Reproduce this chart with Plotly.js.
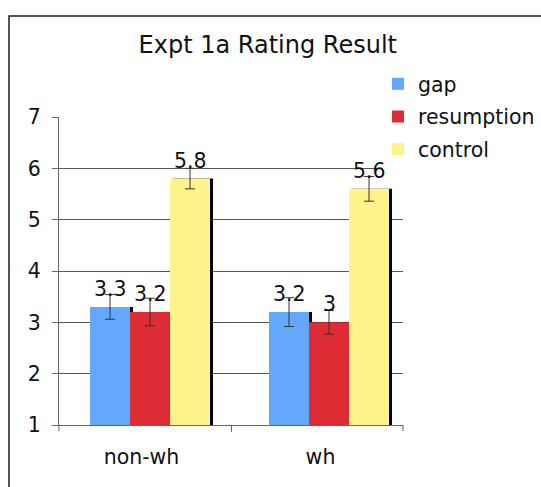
<!DOCTYPE html>
<html>
<head>
<meta charset="utf-8">
<script src="https://cdn.plot.ly/plotly-3.0.1.min.js"></script>
<style>html,body{margin:0;padding:0;background:#fff;}#chart{width:541px;height:487px;}</style>
</head>
<body>
<div id="chart"></div>
<script>
// ---- data ----
const categories = ['non-wh', 'wh'];
const seriesNames = ['gap', 'resumption', 'control'];
const gapValues = [3.3, 3.2];
const resumptionValues = [3.2, 3.0];
const controlValues = [5.8, 5.6];
const gapErrors = [0.24, 0.28];
const resumptionErrors = [0.27, 0.23];
const controlErrors = [0.20, 0.24];
const yTickValues = [1, 2, 3, 4, 5, 6, 7];
const titleText = 'Expt 1a Rating Result';

// ---- style ----
const FONT = 'DejaVu Sans, Verdana, sans-serif';
const colors = ['#63A8FE', '#DD2C33', '#FFF38B'];
const barW = 0.2235;
const offsets = [-0.2877, -0.0642, 0.1593];
const shadowShift = 0.0168;
const TXT = 20.5;

const values = [gapValues, resumptionValues, controlValues];
const errors = [gapErrors, resumptionErrors, controlErrors];

const traces = [];
// shadows first (below)
values.forEach((v, i) => {
  traces.push({
    type: 'bar', x: categories, y: v.map(d => d - 1), base: 1,
    width: barW, offset: offsets[i] + shadowShift,
    marker: {color: '#000000', line: {width: 0}},
    showlegend: false, hoverinfo: 'skip'
  });
});
values.forEach((v, i) => {
  traces.push({
    type: 'bar', name: seriesNames[i], legendgroup: 'g' + i, x: categories,
    y: v.map(d => d - 1), base: 1,
    width: barW, offset: offsets[i],
    marker: {color: colors[i], line: {width: 0}},
    error_y: {type: 'data', array: errors[i], visible: true, color: '#333333', thickness: 1, width: 5}
  });
});

const annotations = [];
values.forEach((v, i) => {
  v.forEach((val, j) => {
    annotations.push({
      xref: 'x', yref: 'y', x: j + offsets[i] + barW / 2, y: val,
      text: String(val), showarrow: false, yanchor: 'bottom', xanchor: 'center',
      yshift: 4, font: {family: FONT, size: TXT, color: '#111'}
    });
  });
});

const layout = {
  width: 541, height: 487,
  margin: {l: 59, r: 138, t: 117, b: 62, autoexpand: false},
  paper_bgcolor: '#ffffff', plot_bgcolor: '#ffffff',
  barmode: 'overlay',
  font: {family: FONT, size: TXT, color: '#111'},
  title: {text: titleText, font: {family: FONT, size: 24, color: '#111'},
          xref: 'container', yref: 'container', x: 0.495, xanchor: 'center', y: 0.9076, yanchor: 'middle'},
  xaxis: {
    type: 'category', range: [-0.461, 1.461], fixedrange: true,
    showline: true, linecolor: '#666', linewidth: 1,
    ticks: 'outside', ticklen: 6, tickcolor: '#666', tickson: 'boundaries',
    showgrid: false, ticklabelstandoff: 13,
    tickfont: {family: FONT, size: TXT, color: '#111'}
  },
  yaxis: {
    range: [1, 7], tickvals: yTickValues, fixedrange: true,
    showline: true, linecolor: '#666', linewidth: 1,
    ticks: 'outside', ticklen: 6, tickcolor: '#666',
    showgrid: true, gridcolor: '#555', gridwidth: 1, zeroline: false,
    ticklabelstandoff: 7,
    tickfont: {family: FONT, size: TXT, color: '#111'}
  },
  legend: {
    x: 0.9273, xanchor: 'left', y: 1.172, yanchor: 'top',
    bgcolor: '#ffffff', borderwidth: 0,
    font: {family: FONT, size: TXT, color: '#111'},
    traceorder: 'grouped', tracegroupgap: 3
  },
  annotations: annotations,
  shapes: [
    {type: 'rect', xref: 'paper', yref: 'paper',
     x0: -0.1453, x1: 2, y0: -1, y1: 1.328,
     line: {color: '#1a1a1a', width: 1.5}, fillcolor: 'rgba(0,0,0,0)', layer: 'below'},
    {type: 'line', xref: 'paper', yref: 'paper', x0: 0, x1: 0, y0: 0, y1: -6 / 308,
     line: {color: '#666', width: 1}},
    {type: 'line', xref: 'paper', yref: 'paper', x0: 1, x1: 1, y0: 0, y1: -6 / 308,
     line: {color: '#666', width: 1}}
  ]
};

Plotly.newPlot('chart', traces, layout, {staticPlot: true, displayModeBar: false});
</script>
</body>
</html>
